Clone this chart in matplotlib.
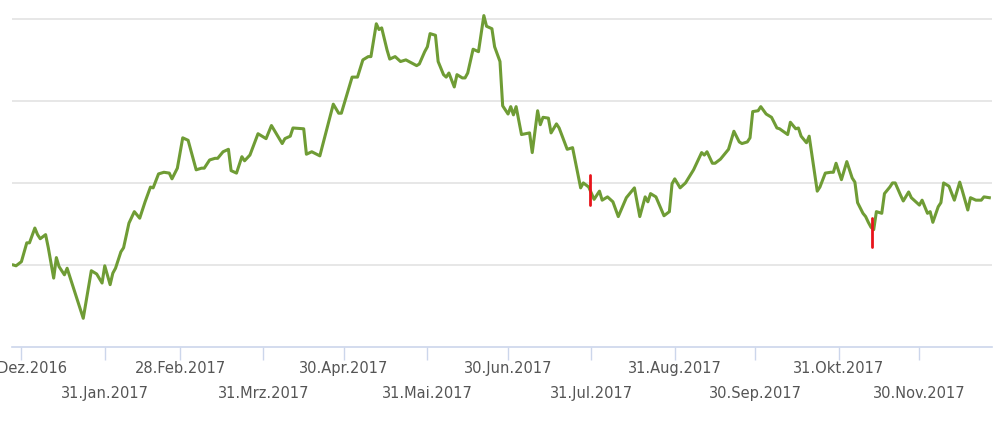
import datetime as dt
import matplotlib
matplotlib.use("Agg")
import matplotlib.pyplot as plt
import matplotlib.dates as mdates

# days after 31.12.2016 and the price
start = dt.date(2016, 12, 31)
days = [-3, -2, 0, 2, 3, 5, 6, 7, 9, 10, 12, 13, 14, 16, 17, 23, 26, 28, 30, 31,
        33, 34, 35, 37, 38, 40, 42, 44, 46, 48, 49, 51, 53, 55, 56, 58, 60, 62, 63, 65,
        67, 68, 70, 72, 73, 75, 77, 78, 80, 82, 83, 85, 88, 91, 93, 97, 98, 100, 101, 105,
        106, 108, 111, 116, 118, 119, 121, 123, 125, 127, 129, 130, 132, 133, 134, 136, 137, 139, 141, 143,
        147, 148, 150, 151, 152, 154, 155, 157, 158, 159, 161, 162, 164, 165, 166, 168, 170, 172, 173, 175,
        176, 178, 179, 181, 182, 183, 184, 186, 189, 190, 192, 193, 194, 196, 197, 199, 200, 203, 205, 208,
        209, 211, 213, 215, 216, 218, 220, 222, 225, 228, 230, 232, 233, 234, 236, 239, 241, 242, 243, 245,
        247, 250, 253, 254, 255, 257, 258, 260, 263, 265, 267, 268, 270, 271, 272, 274, 275, 277, 279, 281,
        282, 285, 286, 288, 289, 290, 292, 293, 296, 297, 299, 301, 302, 303, 305, 307, 309, 310, 311, 313,
        314, 315, 316, 317, 318, 320, 321, 323, 324, 325, 327, 328, 330, 331, 333, 334, 335, 337, 338, 339,
        341, 342, 343, 345, 347, 349, 350, 352, 353, 355, 357, 358, 360]
price = [20.0, 19.9, 20.4, 22.7, 22.7, 24.5, 23.7, 23.2, 23.7, 22.1, 18.4, 20.9, 19.8, 18.8, 19.6, 13.5, 19.3, 18.9, 17.8, 19.9,
         17.6, 19.0, 19.6, 21.6, 22.1, 25.1, 26.5, 25.7, 27.7, 29.5, 29.4, 31.1, 31.3, 31.2, 30.5, 31.8, 35.5, 35.2, 34.0, 31.6,
         31.8, 31.8, 32.8, 33.0, 33.0, 33.8, 34.1, 31.5, 31.2, 33.2, 32.7, 33.4, 36.0, 35.4, 37.0, 34.8, 35.4, 35.7, 36.7, 36.6,
         33.5, 33.8, 33.3, 39.6, 38.5, 38.5, 40.7, 42.9, 42.9, 45.0, 45.4, 45.4, 49.4, 48.7, 48.9, 46.2, 45.1, 45.4, 44.8, 45.0,
         44.3, 44.5, 46.0, 46.6, 48.2, 48.0, 44.8, 43.2, 42.9, 43.4, 41.7, 43.2, 42.8, 42.8, 43.4, 46.3, 46.0, 50.4, 49.1, 48.8,
         46.6, 44.8, 39.4, 38.4, 39.3, 38.3, 39.3, 35.9, 36.1, 33.7, 38.8, 37.1, 38.0, 37.9, 36.1, 37.2, 36.7, 34.1, 34.3, 29.4,
         30.0, 29.5, 28.0, 29.0, 27.9, 28.3, 27.7, 25.9, 28.2, 29.4, 25.9, 28.3, 27.7, 28.7, 28.3, 26.0, 26.5, 29.9, 30.5, 29.4,
         30.0, 31.6, 33.7, 33.4, 33.8, 32.4, 32.4, 32.9, 34.1, 36.3, 35.0, 34.8, 35.0, 35.5, 38.7, 38.8, 39.3, 38.4, 38.0, 36.7,
         36.6, 35.9, 37.4, 36.6, 36.7, 35.7, 34.9, 35.7, 29.0, 29.5, 31.2, 31.3, 31.3, 32.4, 30.4, 32.6, 30.6, 30.1, 27.6, 26.3,
         25.9, 25.2, 24.6, 24.3, 26.5, 26.3, 28.7, 29.5, 30.0, 30.0, 28.5, 27.8, 28.9, 28.2, 27.6, 27.3, 27.9, 26.3, 26.5, 25.2,
         27.1, 27.6, 30.0, 29.6, 27.9, 30.1, 29.0, 26.7, 28.2, 27.9, 27.9, 28.3, 28.2]

# red event markers: day, top value, bottom value
event_days = [211.5, 316.3]
event_top = [31.0, 25.7]
event_bottom = [27.3, 22.2]

tick_dates = ["2016-12-31", "2017-01-31", "2017-02-28", "2017-03-31", "2017-04-30", "2017-05-31",
              "2017-06-30", "2017-07-31", "2017-08-31", "2017-09-30", "2017-10-31", "2017-11-30"]
tick_labels = ["31.Dez.2016", "31.Jan.2017", "28.Feb.2017", "31.Mrz.2017", "30.Apr.2017", "31.Mai.2017",
               "30.Jun.2017", "31.Jul.2017", "31.Aug.2017", "30.Sep.2017", "31.Okt.2017", "30.Nov.2017"]
grid_values = [10, 20, 30, 40, 50]

dates = [start + dt.timedelta(days=d) for d in days]
ev_dates = [dt.datetime(2016, 12, 31) + dt.timedelta(days=d) for d in event_days]
ticks = [dt.datetime.strptime(t, "%Y-%m-%d") for t in tick_dates]

fig = plt.figure(figsize=(10, 4.22), dpi=100)
ax = fig.add_axes([0.012, 0.1777, 0.98, 0.8223])

for g in grid_values[1:]:
    ax.axhline(g, color="#e3e3e3", lw=1.2, zorder=0)

ax.plot(dates, price, color="#6f9c35", lw=2.2, solid_joinstyle="round", zorder=2)
for d, t, b in zip(ev_dates, event_top, event_bottom):
    ax.plot([d, d], [t, b], color="#e8141b", lw=2.0, solid_capstyle="round", zorder=3)

ax.set_xlim(dt.datetime(2016, 12, 27, 12), dt.datetime(2017, 12, 27))
ax.set_ylim(10, 52.3)

for s in ["top", "right", "left"]:
    ax.spines[s].set_visible(False)
ax.spines["bottom"].set_color("#ccd6eb")
ax.spines["bottom"].set_linewidth(1.2)
ax.set_yticks([])

# two staggered rows of date labels
ax.set_xticks(ticks[0::2])
ax.set_xticklabels(tick_labels[0::2])
ax.set_xticks(ticks[1::2], minor=True)
ax.set_xticklabels(tick_labels[1::2], minor=True)
ax.tick_params(axis="x", which="major", length=9.5, width=1, color="#ccd6eb",
               labelsize=10.5, labelcolor="#555555", pad=0.8)
ax.tick_params(axis="x", which="minor", length=9.5, width=1, color="#ccd6eb",
               labelsize=10.5, labelcolor="#555555", pad=18.5)

fig.savefig("out.png", dpi=100)
